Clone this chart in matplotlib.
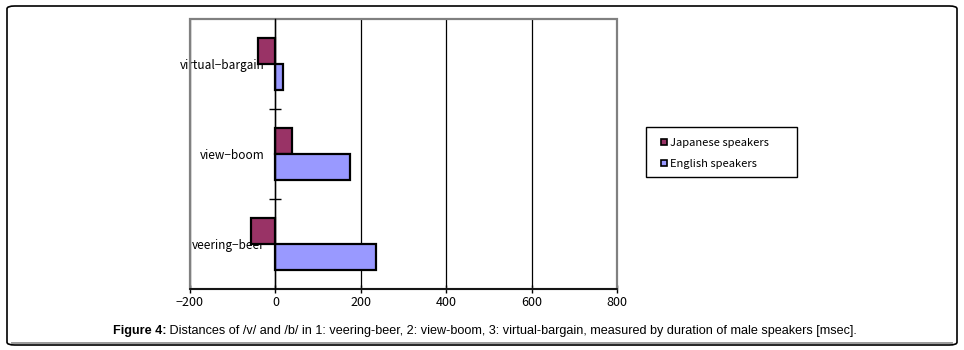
import numpy as np
import matplotlib
matplotlib.use('Agg')
import matplotlib.pyplot as plt
from matplotlib.patches import FancyBboxPatch, Rectangle
from matplotlib.lines import Line2D

# data (msec)
categories = ["veering\u2212beer", "view\u2212boom", "virtual\u2212bargain"]
japanese = [-58, 40, -41]
english = [236, 175, 18]
series_names = ["Japanese speakers", "English speakers"]
x_ticks = [-200, 0, 200, 400, 600, 800]

JP_COLOR = "#993366"
EN_COLOR = "#9999FF"

plt.rcParams['font.family'] = ['Noto Sans CJK JP', 'DejaVu Sans']

fig = plt.figure(figsize=(9.64, 3.5), dpi=100)
ax = fig.add_axes([190 / 964, 61 / 350, 427 / 964, 270 / 350])

y = np.arange(len(categories))
h = 0.285
ax.barh(y + h / 2, japanese, height=h, color=JP_COLOR, edgecolor="black", linewidth=1.6, zorder=2)
ax.barh(y - h / 2, english, height=h, color=EN_COLOR, edgecolor="black", linewidth=1.6, zorder=2)

ax.set_xlim(-200, 800)
ax.set_ylim(-0.5, len(categories) - 0.5)
ax.set_xticks(x_ticks)
ax.set_xticklabels([str(v).replace("-", "\u2212") for v in x_ticks], fontsize=9)
ax.tick_params(axis="x", direction="inout", length=6, width=1, color="black", pad=2)
ax.xaxis.grid(True, color="black", linewidth=0.9, zorder=0)
ax.set_axisbelow(True)

# category axis sits on zero
ax.spines["left"].set_position(("data", 0))
ax.spines["left"].set_color("black")
ax.spines["left"].set_linewidth(1)
ax.spines["left"].set_zorder(3)
ax.set_yticks(y)
ax.set_yticklabels(categories, fontsize=8.5)
ax.tick_params(axis="y", length=0, pad=8)
ax.set_yticks(np.arange(len(categories) - 1) + 0.5, minor=True)
ax.tick_params(axis="y", which="minor", direction="inout", length=8, width=1, color="black")

for s in ["top", "right"]:
    ax.spines[s].set_visible(False)
ax.spines["bottom"].set_color("black")
ax.spines["bottom"].set_linewidth(1.2)

# gray plot frame
ax.add_patch(Rectangle((0, 0), 1, 1, transform=ax.transAxes, fill=False,
                       edgecolor="#808080", linewidth=1.6, clip_on=False, zorder=3))
ax.spines["bottom"].set_zorder(5)

# legend: entries plus a separate box
handles = [Line2D([], [], linestyle="none", marker="s", markersize=5,
                  markerfacecolor=c, markeredgecolor="black", markeredgewidth=1.2)
           for c in (JP_COLOR, EN_COLOR)]
fig.legend(handles, series_names, loc="upper left",
           bbox_to_anchor=(661 / 964, 1 - 138 / 350), fontsize=8,
           frameon=False, handlelength=0.6, handletextpad=0.25,
           borderpad=0, labelspacing=1.0, borderaxespad=0)
fig.patches.append(Rectangle((646 / 964, 1 - 177 / 350), 151 / 964, 50 / 350,
                             transform=fig.transFigure, fill=False,
                             edgecolor="black", linewidth=1))

# outer border of the figure panel
fig.patches.append(FancyBboxPatch((7 / 964, 5 / 350), 950 / 964, 339 / 350,
                                  boxstyle="round,pad=0,rounding_size=0.008",
                                  transform=fig.transFigure, fill=False,
                                  edgecolor="black", linewidth=1.2))
fig.lines.append(Line2D([12 / 964, 952 / 964], [1 - 343 / 350, 1 - 343 / 350],
                        transform=fig.transFigure, color="#9a9a9a", linewidth=1.4))

cap_font = ['Liberation Sans Narrow', 'Liberation Sans', 'DejaVu Sans']
t1 = fig.text(113 / 964, 1 - 331 / 350, "Figure 4:", fontsize=9.1, fontweight="bold",
              va="center", ha="left", family=cap_font)
fig.canvas.draw()
ax.annotate(" Distances of /v/ and /b/ in 1: veering-beer, 2: view-boom, 3: virtual-bargain, "
            "measured by duration of male speakers [msec].",
            xy=(1, 0.5), xycoords=t1, va="center", ha="left", fontsize=9.1,
            family=cap_font, annotation_clip=False)

fig.savefig("out.png", dpi=100)
